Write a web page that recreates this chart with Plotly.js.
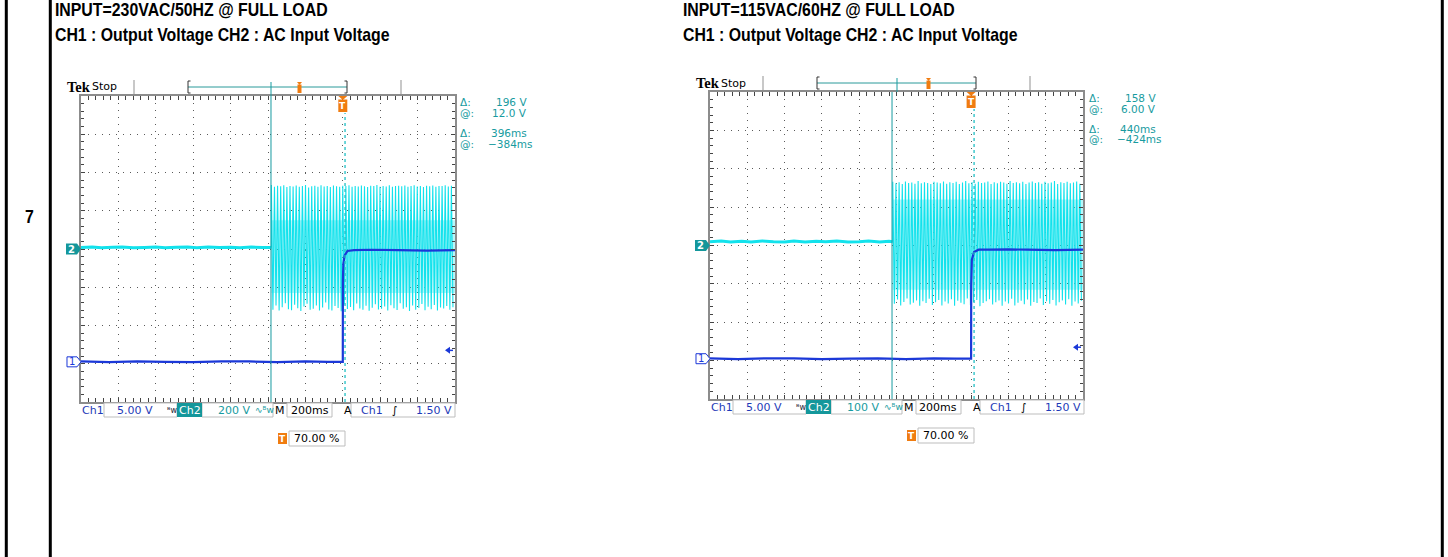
<!DOCTYPE html>
<html><head><meta charset="utf-8">
<script src="https://cdn.plot.ly/plotly-3.0.1.min.js"></script>
<style>html,body{margin:0;padding:0;background:#fff;overflow:hidden}#chart{width:1448px;height:557px}</style>
</head><body><div id="chart"></div>
<script>
// ================= DATA =================
const rowLabel = "7";
const titles1 = ["INPUT=230VAC/50HZ @ FULL LOAD", "CH1 : Output Voltage CH2 : AC Input Voltage"];
const titles2 = ["INPUT=115VAC/60HZ @ FULL LOAD", "CH1 : Output Voltage CH2 : AC Input Voltage"];

// common scope settings
const timePerDiv = 200;          // ms/div
const triggerPosPct = 70;        // % of record
const ch1VoltsPerDiv = 5;
const ch1OffsetDiv = -2.95;      // CH1 ground position (div from centre)
const triggerLevel = 1.5;        // V
const statusCh1 = "5.00 V", statusTime = "200ms", statusTrig = "1.50 V", statusPos = "70.00 %";

// ---- Scope 1 : 230VAC / 50Hz ----
const s1Ch2VoltsPerDiv = 200;
const s1Ch2Label = "200 V";
const s1Readouts = ["196 V", "12.0 V", "396ms", "\u2212384ms"];
const s1CursorA = -384, s1CursorB = 12;       // ms
const s1Ch2FlatT = [-1400,-1340,-1290,-1230,-1180,-1120,-1060,-1000,-950,-890,-830,-780,-720,-660,-600,-550,-490,-430,-382];
const s1Ch2FlatV = [8,10,7,9,11,7,8,10,7,9,10,7,11,8,9,7,10,8,8];
const s1AcStart = -382, s1AcStep = 16.6;
const s1AcTop = [334,326,331,328,333,324,330,327,332,325,329,334,322,328,331,326,333,327,330,324,332,328,326,331,329,333,325,330,327,332,328,324,331,329,334,326,330,327,333,325,329,331,328,332,326,330,333,327,329,324,331,328,332,326,330,329,333,327,331];
const s1AcBot = [-318,-296,-322,-305,-284,-315,-320,-292,-310,-324,-300,-286,-318,-312,-295,-322,-306,-280,-316,-321,-298,-309,-325,-290,-314,-303,-320,-285,-311,-318,-297,-323,-307,-289,-316,-312,-300,-322,-294,-310,-319,-283,-313,-305,-324,-296,-317,-308,-288,-320,-302,-315,-293,-321,-306,-311,-298,-318,-304];
const s1AcDense = [150, -230];   // lighter dense band in the middle of the AC burst (V)
const s1Ch1T = [-1400,-1250,-1100,-950,-800,-650,-500,-350,-200,-80,0,0.5,3,10,25,60,150,300,450,600];
const s1Ch1V = [0.05,-0.05,0.05,0,-0.05,0.05,0.05,-0.05,0.05,0,0,10.5,12.8,13.9,14.5,14.6,14.65,14.6,14.55,14.6];

// ---- Scope 2 : 115VAC / 60Hz ----
const s2Ch2VoltsPerDiv = 100;
const s2Ch2Label = "100 V";
const s2Readouts = ["158 V", "6.00 V", "440ms", "\u2212424ms"];
const s2CursorA = -424, s2CursorB = 16;
const s2Ch2FlatT = [-1400,-1340,-1290,-1230,-1180,-1120,-1060,-1000,-950,-890,-830,-780,-720,-660,-600,-550,-490,-440,-420];
const s2Ch2FlatV = [10,12,9,11,9,12,10,9,12,9,11,10,12,9,10,12,9,11,10];
const s2AcStart = -420, s2AcStep = 17;
const s2AcTop = [166,162,165,160,167,163,164,161,168,162,165,163,160,166,164,162,167,161,165,163,166,160,164,168,162,165,161,166,163,164,167,160,165,162,166,164,161,168,163,165,162,166,160,164,167,163,165,161,166,162,164,168,160,165,163,166,162,164,167,161];
const s2AcBot = [-152,-141,-156,-147,-138,-154,-149,-143,-157,-145,-150,-139,-155,-148,-142,-156,-146,-151,-140,-157,-144,-149,-153,-138,-155,-147,-142,-158,-150,-145,-140,-154,-148,-143,-157,-146,-151,-139,-156,-149,-144,-153,-141,-157,-147,-150,-138,-155,-145,-152,-142,-156,-148,-143,-154,-140,-157,-146,-151,-144];
const s2AcDense = [120, -115];
const s2Ch1T = [-1400,-1250,-1100,-950,-800,-650,-500,-350,-200,-80,0,0.5,4,16,40,100,200,300,450,600];
const s2Ch1V = [0.05,-0.05,0.05,0.05,-0.05,0,0.05,-0.05,0.05,0,0,9.4,12.9,13.9,14.2,14.2,14.25,14.2,14.15,14.2];

// ================= RENDER =================
const W = 1448, H = 557;
const px = x => x / W, py = y => 1 - y / H;
const TEAL = '#179ba0', TEALBOX = '#14979b', CYAN = '#12e2ec', BLUE = '#1b38d8', BLUETXT = '#1f3bb8', ORANGE = '#f07c10';
const MONO = 'DejaVu Sans, Verdana, sans-serif';
const ARIAL = '"Liberation Sans", Arial, sans-serif';
const NARROW_SCALE = 0.835;
const compressIdx = [];

const tMin = -triggerPosPct / 100 * 10 * timePerDiv;
const tMax = tMin + 10 * timePerDiv;

const traces = [], shapes = [], annotations = [];
const layout = {
  width: W, height: H, margin: {l:0, r:0, t:0, b:0}, showlegend: false,
  paper_bgcolor: '#fff', plot_bgcolor: 'rgba(0,0,0,0)'
};
const key = id => id[0] + 'axis' + id.slice(1);

function txt(x, y, text, size, color, opt) {
  return Object.assign({xref:'paper', yref:'paper', x:px(x), y:py(y), text:text, showarrow:false,
    xanchor:'left', yanchor:'middle', borderpad:0, font:{family:MONO, size:size, color:color}}, opt || {});
}
function rect(x0, y0, x1, y1, fill, lc, lw) {
  return {type:'rect', xref:'paper', yref:'paper', x0:px(x0), x1:px(x1), y0:py(y0), y1:py(y1),
    fillcolor:fill, line:{color:lc || 'rgba(0,0,0,0)', width:lw === undefined ? 1 : lw}, layer:'above'};
}
function vline(x, y0, y1, color, w) {
  return {type:'line', xref:'paper', yref:'paper', x0:px(x), x1:px(x), y0:py(y0), y1:py(y1), line:{color:color, width:w}, layer:'above'};
}
function hline(x0, x1, y, color, w) {
  return {type:'line', xref:'paper', yref:'paper', x0:px(x0), x1:px(x1), y0:py(y), y1:py(y), line:{color:color, width:w}, layer:'above'};
}
function path(pts, fill, lc, lw) {
  const d = pts.map((p, i) => (i ? 'L' : 'M') + px(p[0]).toFixed(5) + ',' + py(p[1]).toFixed(5)).join(' ') + ' Z';
  return {type:'path', xref:'paper', yref:'paper', path:d, fillcolor:fill, line:{color:lc || 'rgba(0,0,0,0)', width:lw || 0}, layer:'above'};
}
function zigzag(start, step, tops, bots, end) {
  const x = [], y = [];
  for (let i = 0; i < Math.min(tops.length, bots.length); i++) {
    const t = start + i * step;
    if (t > end) break;
    x.push(t); y.push(tops[i]);
    if (t + step / 2 <= end) { x.push(t + step / 2); y.push(bots[i]); }
  }
  return {x, y};
}

function axisStyle(extra) {
  return Object.assign({
    showgrid:true, gridcolor:'#5a5a5a', gridwidth:1, griddash:'1px,6px',
    showline:true, linecolor:'#8c8c8c', linewidth:2, mirror:'allticks',
    ticks:'inside', ticklen:4, tickcolor:'#444', tickwidth:1,
    showticklabels:false, zeroline:false, fixedrange:true
  }, extra);
}

function buildScope(i, s) {
  const xM = i ? 'x2' : 'x', xC = i ? 'x4' : 'x3';
  const y2 = i ? 'y4' : 'y', y1 = i ? 'y5' : 'y2', yC = i ? 'y6' : 'y3';
  const {L, R, T, B, ox, dT, dB} = s;
  const cx = (L + R) / 2, cy = (T + B) / 2;
  const v2 = s.ch2Vpd;

  layout[key(xM)] = axisStyle({domain:[px(L), px(R)], range:[tMin, tMax], anchor:y2,
    tickmode:'linear', tick0:tMin, dtick:timePerDiv,
    minor:{tickmode:'linear', tick0:tMin, dtick:timePerDiv / 5, ticks:'inside', ticklen:3, tickcolor:'#444', showgrid:false}});
  layout[key(y2)] = axisStyle({domain:[py(B), py(T)], range:[-4 * v2, 4 * v2], anchor:xM,
    tickmode:'linear', tick0:0, dtick:v2,
    minor:{tickmode:'linear', tick0:0, dtick:v2 / 5, ticks:'inside', ticklen:3, tickcolor:'#444', showgrid:false}});
  layout[key(y1)] = {overlaying:y2, anchor:xM, visible:false, fixedrange:true,
    range:[(-4 - ch1OffsetDiv) * ch1VoltsPerDiv, (4 - ch1OffsetDiv) * ch1VoltsPerDiv]};
  layout[key(xC)] = {overlaying:xM, anchor:'free', position:py(cy - 3), side:'bottom', range:[tMin, tMax],
    tickmode:'linear', tick0:tMin, dtick:timePerDiv, ticks:'outside', ticklen:6, tickcolor:'#444', tickwidth:1,
    minor:{tickmode:'linear', tick0:tMin, dtick:timePerDiv / 5, ticks:'outside', ticklen:6, tickcolor:'#444'},
    showline:false, showgrid:false, showticklabels:false, zeroline:false, fixedrange:true};
  layout[key(yC)] = {overlaying:y2, anchor:'free', position:px(cx + 3), side:'left', range:[-4 * v2, 4 * v2],
    tickmode:'linear', tick0:0, dtick:v2, ticks:'outside', ticklen:6, tickcolor:'#444', tickwidth:1,
    minor:{tickmode:'linear', tick0:0, dtick:v2 / 5, ticks:'outside', ticklen:6, tickcolor:'#444'},
    showline:false, showgrid:false, showticklabels:false, zeroline:false, fixedrange:true};

  // --- traces ---
  traces.push({type:'scatter', mode:'lines', x:[s.acStart, tMax, tMax, s.acStart], y:[s.dense[0], s.dense[0], s.dense[1], s.dense[1]],
    fill:'toself', fillcolor:'rgba(18,226,236,0.30)', line:{width:0, color:'rgba(0,0,0,0)'}, xaxis:xM, yaxis:y2, hoverinfo:'skip'});
  traces.push({type:'scatter', mode:'lines', x:s.flatT, y:s.flatV, xaxis:xM, yaxis:y2,
    line:{color:CYAN, width:3, simplify:false}, hoverinfo:'skip'});
  const zz = zigzag(s.acStart, s.acStep, s.acTop, s.acBot, tMax);
  traces.push({type:'scatter', mode:'lines', x:[s.flatT[s.flatT.length - 1]].concat(zz.x), y:[s.flatV[s.flatV.length - 1]].concat(zz.y),
    xaxis:xM, yaxis:y2, line:{color:CYAN, width:1.1, simplify:false}, hoverinfo:'skip'});
  traces.push({type:'scatter', mode:'lines', x:s.ch1T, y:s.ch1V, xaxis:xM, yaxis:y1,
    line:{color:BLUE, width:2.2, simplify:false}, hoverinfo:'skip'});

  // --- cursors ---
  shapes.push({type:'line', xref:xM, yref:'paper', x0:s.cA, x1:s.cA, y0:py(B), y1:py(T), line:{color:TEAL, width:1}, layer:'above'});
  shapes.push({type:'line', xref:xM, yref:'paper', x0:s.cB, x1:s.cB, y0:py(B), y1:py(T + 17), line:{color:'#22bfc5', width:1.3, dash:'3px,3px'}, layer:'above'});

  // --- top bar ---
  annotations.push(txt(66 + ox, 87 + dT, '<b>Tek</b>', 14, '#000', {font:{family:'"Liberation Serif", serif', size:14.5, color:'#000'}}));
  annotations.push(txt(91 + ox, 87 + dT, 'Stop', 11, '#000'));
  shapes.push(vline(134 + ox, 80 + dT, 94 + dT, '#c8c8c8', 2));
  shapes.push(vline(401 + ox, 80 + dT, 94 + dT, '#c8c8c8', 2));
  shapes.push(hline(188 + ox, 347 + ox, 87 + dT, '#2a9a9a', 1));
  shapes.push({type:'path', xref:'paper', yref:'paper', line:{color:'#333', width:1}, layer:'above',
    path:`M${px(190.5 + ox)},${py(81 + dT)} L${px(188 + ox)},${py(81 + dT)} L${px(188 + ox)},${py(93 + dT)} L${px(190.5 + ox)},${py(93 + dT)}`});
  shapes.push({type:'path', xref:'paper', yref:'paper', line:{color:'#333', width:1}, layer:'above',
    path:`M${px(344.5 + ox)},${py(81 + dT)} L${px(347 + ox)},${py(81 + dT)} L${px(347 + ox)},${py(93 + dT)} L${px(344.5 + ox)},${py(93 + dT)}`});
  shapes.push(vline(s.barLine, 82 + dT, T, TEAL, 1));
  shapes.push(path([[297 + ox, 82 + dT], [302 + ox, 82 + dT], [299.5 + ox, 85 + dT]], ORANGE));
  shapes.push(rect(297.5 + ox, 84.5 + dT, 301.5 + ox, 93 + dT, ORANGE));
  const tx = L + (0 - tMin) / (tMax - tMin) * (R - L);
  shapes.push(path([[tx - 4.5, T], [tx + 4.5, T], [tx, T + 4]], ORANGE));
  shapes.push(rect(tx - 4.5, T + 3.5, tx + 4.5, T + 16, ORANGE));
  annotations.push(txt(tx, T + 10, '<b>T</b>', 9, '#fff', {xanchor:'center'}));

  // --- readouts ---
  const rx = 459 + ox;
  const ry = [102, 113, 132.5, 143.5].map(v => v + dT);
  annotations.push(txt(rx, ry[0], '\u0394:', 10.5, TEAL));
  annotations.push(txt(rx, ry[1], '@:', 10.5, TEAL));
  annotations.push(txt(rx, ry[2], '\u0394:', 10.5, TEAL));
  annotations.push(txt(rx, ry[3], '@:', 10.5, TEAL));
  annotations.push(txt(528 + ox, ry[0], s.readouts[0], 10.5, TEAL, {xanchor:'right'}));
  annotations.push(txt(528 + ox, ry[1], s.readouts[1], 10.5, TEAL, {xanchor:'right'}));
  annotations.push(txt(490 + ox, ry[2], s.readouts[2], 10.5, TEAL));
  annotations.push(txt(487 + ox, ry[3], s.readouts[3], 10.5, TEAL));

  // --- ground markers ---
  const g2 = cy;
  const g1 = cy - ch1OffsetDiv * (B - T) / 8;
  shapes.push(path([[66 + ox, g2 - 5.5], [77 + ox, g2 - 5.5], [81 + ox, g2], [77 + ox, g2 + 5.5], [66 + ox, g2 + 5.5]], TEALBOX));
  annotations.push(txt(71.5 + ox, g2, '<b>2</b>', 10, '#fff', {xanchor:'center'}));
  shapes.push(path([[67 + ox, g1 - 5], [77 + ox, g1 - 5], [81 + ox, g1], [77 + ox, g1 + 5], [67 + ox, g1 + 5]], '#fff', BLUE, 1));
  annotations.push(txt(72 + ox, g1, '1', 10, BLUE, {xanchor:'center'}));
  const gl = g1 - triggerLevel / ch1VoltsPerDiv * (B - T) / 8;
  shapes.push(path([[R - 10, gl], [R - 5, gl - 3.5], [R - 5, gl + 3.5]], BLUE));
  shapes.push(hline(R - 6, R - 2, gl, BLUE, 1.5));

  // --- status bar ---
  const by0 = 403 + dB, by1 = 417 + dB, byc = 410 + dB;
  [[104, 177], [202, 273], [287, 332], [351, 455]].forEach(b => shapes.push(rect(b[0] + ox, by0, b[1] + ox, by1, '#fff', '#bdbdbd', 1)));
  shapes.push(rect(177 + ox, by0, 202 + ox, by1, TEALBOX));
  annotations.push(txt(81 + ox, byc, 'Ch1', 11, BLUETXT));
  annotations.push(txt(135 + ox, byc, statusCh1, 11, BLUETXT, {xanchor:'center'}));
  annotations.push(txt(172 + ox, byc, '\u1D2Ew', 8, '#223', {xanchor:'center'}));
  annotations.push(txt(189.5 + ox, byc, 'Ch2', 11, '#fff', {xanchor:'center'}));
  annotations.push(txt(234 + ox, byc, s.ch2Label, 11, TEAL, {xanchor:'center'}));
  annotations.push(txt(264 + ox, byc, '\u223F\u1D2Ew', 9, TEAL, {xanchor:'center'}));
  annotations.push(txt(280 + ox, byc, 'M', 11, '#000', {xanchor:'center'}));
  annotations.push(txt(309.5 + ox, byc, statusTime, 11, '#000', {xanchor:'center'}));
  annotations.push(txt(348 + ox, byc, 'A', 11, '#000', {xanchor:'center'}));
  annotations.push(txt(372 + ox, byc, 'Ch1', 11, BLUETXT, {xanchor:'center'}));
  annotations.push(txt(395 + ox, byc, '\u222B', 11, '#000', {xanchor:'center'}));
  annotations.push(txt(453 + ox, byc, statusTrig, 11, BLUETXT, {xanchor:'right'}));

  // --- trigger position ---
  shapes.push(rect(278 + ox, 433 + dB, 287 + ox, 444 + dB, ORANGE));
  annotations.push(txt(282.5 + ox, 438.5 + dB, '<b>T</b>', 9, '#fff', {xanchor:'center'}));
  shapes.push(rect(289 + ox, 431 + dB, 345 + ox, 446 + dB, '#fff', '#bdbdbd', 1));
  annotations.push(txt(293 + ox, 438.5 + dB, statusPos, 11, '#000'));

  // --- titles (Arial-Narrow-like: Liberation Sans Bold, condensed after render) ---
  const tX = 54 + ox - (i ? 1 : 0);
  compressIdx.push(annotations.length);
  annotations.push(txt(tX, 10, '<b>' + s.titles[0] + '</b>', 19, '#000', {font:{family:ARIAL, size:19, color:'#000'}}));
  compressIdx.push(annotations.length);
  annotations.push(txt(tX, 34.5, '<b>' + s.titles[1] + '</b>', 19, '#000', {font:{family:ARIAL, size:19, color:'#000'}}));
}

buildScope(0, {L:81, R:455, T:96, B:402, ox:0, dT:0, dB:0, ch2Vpd:s1Ch2VoltsPerDiv, ch2Label:s1Ch2Label,
  readouts:s1Readouts, cA:s1CursorA, cB:s1CursorB, flatT:s1Ch2FlatT, flatV:s1Ch2FlatV,
  acStart:s1AcStart, acStep:s1AcStep, acTop:s1AcTop, acBot:s1AcBot, dense:s1AcDense, ch1T:s1Ch1T, ch1V:s1Ch1V,
  barLine:271, titles:titles1});
buildScope(1, {L:710, R:1083, T:92, B:399, ox:629, dT:-4, dB:-3, ch2Vpd:s2Ch2VoltsPerDiv, ch2Label:s2Ch2Label,
  readouts:s2Readouts, cA:s2CursorA, cB:s2CursorB, flatT:s2Ch2FlatT, flatV:s2Ch2FlatV,
  acStart:s2AcStart, acStep:s2AcStep, acTop:s2AcTop, acBot:s2AcBot, dense:s2AcDense, ch1T:s2Ch1T, ch1V:s2Ch1V,
  barLine:897, titles:titles2});

// table borders and row label
shapes.push({type:'line', xref:'paper', yref:'paper', x0:px(6.3), x1:px(6.3), y0:0, y1:1, line:{color:'#000', width:3}, layer:'above'});
shapes.push({type:'line', xref:'paper', yref:'paper', x0:px(50.3), x1:px(50.3), y0:0, y1:1, line:{color:'#000', width:3}, layer:'above'});
shapes.push({type:'line', xref:'paper', yref:'paper', x0:px(1442.3), x1:px(1442.3), y0:0, y1:1, line:{color:'#000', width:3}, layer:'above'});
compressIdx.push(annotations.length);
annotations.push(txt(24.5, 217, '<b>' + rowLabel + '</b>', 19, '#000', {font:{family:ARIAL, size:19, color:'#000'}}));

layout.shapes = shapes;
layout.annotations = annotations;
Plotly.newPlot('chart', traces, layout, {displayModeBar:false, staticPlot:true}).then(gd => {
  compressIdx.forEach(k => {
    const a = gd.querySelector('.annotation[data-index="' + k + '"]');
    if (!a) return;
    const g = a.querySelector('.annotation-text-g') || a;
    const bb = g.getBBox();
    const prev = g.getAttribute('transform') || '';
    g.setAttribute('transform', prev + ' translate(' + bb.x + ',0) scale(' + NARROW_SCALE + ',1) translate(' + (-bb.x) + ',0)');
  });
});
</script>
</body></html>
